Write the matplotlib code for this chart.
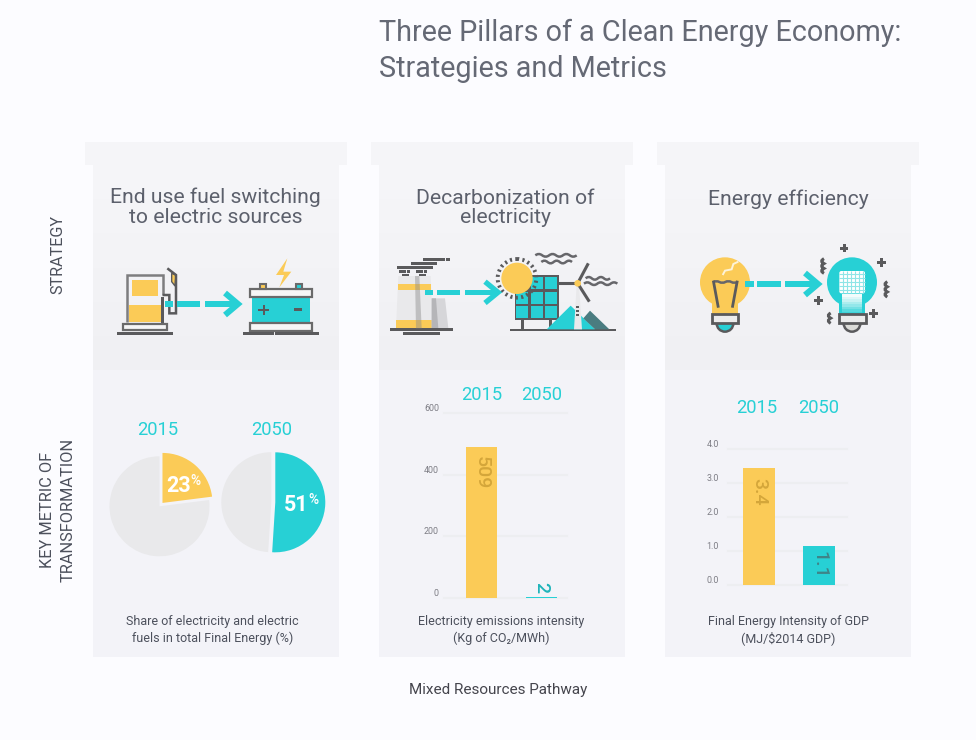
import matplotlib
matplotlib.use("Agg")
import matplotlib.pyplot as plt
from matplotlib.patches import Rectangle, Polygon, Circle, PathPatch, FancyBboxPatch
from matplotlib.path import Path

W, H = 976, 740
plt.rcParams['font.family'] = ['Roboto', 'DejaVu Sans']

TEAL = '#27d0d5'; YEL = '#fbcb57'; DARK = '#5a5a5c'; TXT = '#656975'
BG = '#fcfcff'; LOW = '#f3f3f8'; CAP = '#f5f5f8'; GRID = '#edeef1'; PIEG = '#e9e9eb'
UP_SHADES = ['#f5f5f8', '#f4f4f7', '#f3f3f6', '#f2f2f5', '#f1f1f4', '#f0f0f3']

title_lines = ["Three Pillars of a Clean Energy Economy:", "Strategies and Metrics"]
headings = ["End use fuel switching\nto electric sources", "Decarbonization of\nelectricity", "Energy efficiency"]
captions = ["Share of electricity and electric\nfuels in total Final Energy (%)",
            "Electricity emissions intensity\n(Kg of CO\u2082/MWh)",
            "Final Energy Intensity of GDP\n(MJ/$2014 GDP)"]
years = ["2015", "2050"]
share_values = [23, 51]
emission_bars = [490, 2]
emission_labels = ["509", "2"]
emission_ticks = [0, 200, 400, 600]
intensity_bars = [3.44, 1.14]
intensity_labels = ["3.4", "1.1"]
intensity_ticks = [0.0, 1.0, 2.0, 3.0, 4.0]

fig = plt.figure(figsize=(W / 100, H / 100), dpi=100, facecolor=BG)

def px_axes(x0, y0, x1, y1, z=1):
    a = fig.add_axes([x0 / W, 1 - y1 / H, (x1 - x0) / W, (y1 - y0) / H], zorder=z)
    a.patch.set_alpha(0)
    return a

bg = px_axes(0, 0, W, H, 0)
bg.set_xlim(0, W); bg.set_ylim(H, 0); bg.axis('off')
ov = px_axes(0, 0, W, H, 5)
ov.set_xlim(0, W); ov.set_ylim(H, 0); ov.axis('off')

def T(x, y, s, size, color=TXT, **kw):
    kw.setdefault('ha', 'center'); kw.setdefault('va', 'center')
    return bg.text(x, y, s, fontsize=size, color=color, **kw)

# ---- panels
for cx0, px0 in zip((85, 371, 657), (93, 379, 665)):
    bg.add_patch(Rectangle((cx0, 142), 262, 23, fc=CAP, ec='none'))
    band = 205 / len(UP_SHADES)
    for i, shade in enumerate(UP_SHADES):
        bg.add_patch(Rectangle((px0, 165 + i * band), 246, band + 0.5, fc=shade, ec='none'))
    bg.add_patch(Rectangle((px0, 370), 246, 287, fc=LOW, ec='none'))

# ---- text
T(379, 33, title_lines[0], 20.7, ha='left')
T(379, 69, title_lines[1], 20.7, ha='left')
for cx, y, s in zip((215.5, 505.5, 788), (207, 208, 199), headings):
    T(cx, y, s, 15.2, color='#5c606c', linespacing=1.05, multialignment='center')
for cx, s in zip((212.5, 501, 788), captions):
    T(cx, 630, s, 9, color='#4c505c', linespacing=1.25, multialignment='center')
T(58, 255, "STRATEGY", 11.6, color='#4c505c', rotation=90)
T(47, 510, "KEY METRIC OF", 11.8, color='#4c505c', rotation=90)
T(68, 510, "TRANSFORMATION", 11.8, color='#4c505c', rotation=90)
T(498, 690, "Mixed Resources Pathway", 11, color='#45454d')
for xs, y in (((158, 272), 430), ((482, 542), 395), ((757, 819), 408)):
    for x, s in zip(xs, years):
        T(x, y, s, 13.2, color=TEAL)

# ---- icon helpers (icon geometry in zoom units)
class Icon:
    def __init__(self, ox, oy):
        self.ox, self.oy = ox, oy
    def p(self, x, y):
        return self.ox + x / 3, self.oy + y / 3
    def rect(self, x0, y0, x1, y1, fc=DARK, ec='none', lw=0, z=3):
        a = self.p(x0, y0); b = self.p(x1, y1)
        bg.add_patch(Rectangle(a, b[0] - a[0], b[1] - a[1], fc=fc, ec=ec, lw=lw, zorder=z))
    def poly(self, pts, fc=DARK, ec='none', lw=0, z=3, alpha=None):
        bg.add_patch(Polygon([self.p(*q) for q in pts], closed=True, fc=fc, ec=ec, lw=lw, zorder=z, alpha=alpha))
    def line(self, pts, color=DARK, lw=1.5, z=4):
        xy = [self.p(*q) for q in pts]
        bg.plot([q[0] for q in xy], [q[1] for q in xy], color=color, lw=lw, zorder=z,
                solid_capstyle='butt', solid_joinstyle='miter')
    def circ(self, x, y, r, fc=YEL, ec='none', lw=0, z=3, **kw):
        bg.add_patch(Circle(self.p(x, y), r / 3, fc=fc, ec=ec, lw=lw, zorder=z, **kw))
    def arrow(self, dashes, y, tip, head_x, spread, thick):
        for a, b in dashes:
            self.rect(a, y - thick / 2, b, y + thick / 2, fc=TEAL, z=6)
        self.line([(head_x, y - spread), (tip - 6, y), (head_x, y + spread)], color=TEAL, lw=thick / 3 * 0.72, z=6)
    def wave(self, x0, x1, y, n, amp=5, lw=1.8):
        step = (x1 - x0) / n
        verts = [(x0, y)]; codes = [Path.MOVETO]
        for i in range(n):
            c = x0 + step * (i + 0.5); e = x0 + step * (i + 1)
            sign = -1 if i % 2 == 0 else 1
            verts += [(c, y + sign * 2 * amp), (e, y)]; codes += [Path.CURVE3, Path.CURVE3]
        verts = [self.p(u, v) for u, v in verts]
        bg.add_patch(PathPatch(Path(verts, codes), fc='none', ec='#66666a', lw=lw, zorder=4))
    def plus(self, x, y, s=13, t=9):
        self.rect(x - s, y - t / 2, x + s, y + t / 2)
        self.rect(x - t / 2, y - s, x + t / 2, y + s)

# ---- fuel pump -> battery
a = Icon(90, 240)
a.rect(126, 120, 204, 168, fc=YEL)
a.rect(116, 195, 214, 245, fc=YEL)
a.line([(112, 245), (112, 105), (218, 105), (218, 165)], color='#7d7d7f', lw=1.8)
a.rect(213, 170, 222, 248)
a.rect(100, 252, 232, 270, fc='#f6f6f6', ec='#6a6a6a', lw=1.6)
a.rect(81, 277, 249, 285)
a.line([(218, 165), (238, 165), (238, 220), (258, 220), (258, 105), (232, 85)], lw=1.8)
a.poly([(245, 100), (258, 105), (255, 138), (245, 125)], fc=YEL, ec=DARK, lw=1)
a.arrow([(225, 248), (262, 330), (345, 432)], 192, 450, 405, 33, 18)
a.rect(486, 170, 660, 248, fc=TEAL)
a.rect(480, 148, 665, 170, fc='#f6f6f6', ec='#6a6a6a', lw=1.6)
a.rect(480, 249, 665, 272, fc='#f6f6f6', ec='#6a6a6a', lw=1.6)
a.rect(509, 131, 528, 148, fc=YEL, ec='#6a6a6a', lw=1.5)
a.rect(617, 131, 636, 148, fc=TEAL, ec='#6a6a6a', lw=1.5)
a.plus(521, 210, 16, 7)
a.rect(612, 203, 636, 212)
a.poly([(592, 55), (558, 105), (582, 105), (568, 142), (604, 95), (580, 95)], fc=YEL)
a.rect(459, 277, 552, 285); a.rect(555, 277, 687, 285)

# ---- power plant -> sun, panel, wind
b = Icon(380, 240)
b.poly([(55, 108), (152, 108), (158, 265), (48, 265)], fc='#e9e9eb')
b.rect(53, 131, 154, 150, fc=YEL)
b.rect(48, 240, 159, 265, fc=YEL)
b.poly([(105, 108), (118, 108), (125, 265), (108, 265)], fc='#8c8c8c', alpha=0.45, z=4)
b.poly([(155, 175), (195, 175), (205, 265), (155, 265)], fc='#d6d6d9')
b.poly([(155, 175), (168, 175), (175, 265), (155, 265)], fc='#b5b5b8')
for x0, x1, y0, y1 in ((130, 195, 54, 62), (198, 210, 54, 62), (93, 170, 67, 75), (51, 158, 78, 87),
                       (57, 78, 91, 99), (81, 90, 91, 99), (66, 87, 102, 108),
                       (108, 128, 91, 99), (132, 141, 91, 99), (117, 138, 102, 108),
                       (30, 218, 264, 272), (69, 180, 277, 285), (390, 708, 267, 272)):
    b.rect(x0, y0, x1, y1)
b.rect(404, 106, 536, 239, fc=DARK)
for x in (409, 453, 496):
    for y in (111, 155, 198):
        b.rect(x, y, x + 36, y + 36, fc=TEAL, z=3.5)
b.rect(422, 238, 433, 268); b.rect(507, 238, 517, 268)
b.poly([(500, 268), (572, 197), (645, 268)], fc=TEAL)
b.poly([(610, 235), (630, 212), (688, 268), (645, 268)], fc='#4a7c80')
b.poly([(590, 135), (597, 135), (606, 268), (582, 268)], fc='#e9e9eb', z=3.6)
for y in (200, 213, 226):
    b.rect(588, y - 3, 597, y + 3, z=4)
b.line([(535, 130), (593, 130)], lw=2.2)
b.line([(625, 70), (593, 130)], lw=2.2)
b.line([(628, 185), (593, 130)], lw=2.2)
b.circ(593, 130, 10, z=5)
bg.add_patch(Circle(b.p(411, 115), 58 / 3, fc='none', ec=DARK, lw=2.8, zorder=5,
                    linestyle=(0, (0.55, 0.85))))
b.circ(411, 115, 47, z=6)
b.arrow([(135, 158), (171, 240), (255, 345)], 157, 360, 315, 32, 16)
b.wave(466, 590, 46, 6, amp=4)
b.wave(484, 576, 66, 5, amp=4)
b.wave(617, 690, 115, 4, amp=4)
b.wave(612, 712, 131, 5, amp=4)

# ---- bulbs
c = Icon(670, 240)
c.circ(165, 127, 75)
c.rect(127, 175, 205, 226, fc=YEL)
c.wave(130, 202, 126, 4, amp=2.5)
c.line([(130, 122), (145, 203)], lw=2)
c.line([(202, 122), (187, 203)], lw=2)
c.line([(205, 65), (190, 72), (185, 88), (165, 92), (158, 105)], color='#fdf3d8', lw=1.4)
c.circ(165, 250, 25, fc=TEAL, ec=DARK, lw=1.8)
c.rect(126, 223, 205, 248, fc='#ececec', ec=DARK, lw=2, z=4)
c.arrow([(225, 252), (262, 333), (345, 432)], 132, 450, 405, 33, 18)
c.circ(546, 127, 75, fc=TEAL)
c.rect(508, 175, 585, 226, fc=TEAL)
x0, y0 = c.p(508, 93); x1, y1 = c.p(585, 160)
bg.add_patch(FancyBboxPatch((x0 + 2, y0 + 2), x1 - x0 - 4, y1 - y0 - 4, boxstyle='round,pad=2',
                            fc='#ffffff', ec='none', zorder=4))
for x in range(518, 580, 12):
    c.line([(x, 93), (x, 160)], color='#8fe5e7', lw=0.8, z=5)
for y in range(103, 158, 12):
    c.line([(508, y), (585, y)], color='#8fe5e7', lw=0.8, z=5)
for i, alpha in enumerate((0.95, 0.85, 0.75, 0.62, 0.5, 0.36, 0.22, 0.1)):
    y = 163 + i * 7.4
    c.rect(517, y, 577, y + 7.4, fc=(1, 1, 1, alpha), z=4)
c.circ(546, 250, 25, fc='#dcdcd8', ec=DARK, lw=1.8)
c.rect(507, 223, 587, 248, fc='#ececec', ec=DARK, lw=2, z=4)
for x, y in ((522, 24), (634, 67), (446, 181), (611, 220)):
    c.plus(x, y)
for x, y0_, y1_, n in ((455, 56, 100, 3), (645, 125, 171, 3), (475, 219, 250, 2)):
    pts = [c.p(x + (7 if i % 2 == 0 else -7), y0_ + (y1_ - y0_) * i / (2 * n)) for i in range(2 * n + 1)]
    codes = [Path.MOVETO] + [Path.CURVE3] * (2 * n)
    bg.add_patch(PathPatch(Path(pts, codes), fc='none', ec=DARK, lw=2.2, zorder=4))

# ---- pies
def pie_at(cx, cy, share, color, explode):
    ax = px_axes(cx - 62.5, cy - 62.5, cx + 62.5, cy + 62.5, 2)
    ax.pie([share, 100 - share], explode=[explode, 0], startangle=90, counterclock=False,
           colors=[color, PIEG], radius=1, wedgeprops=dict(linewidth=0))
    ax.set_xlim(-1.25, 1.25); ax.set_ylim(-1.25, 1.25)

pie_at(159.5, 506.3, share_values[0], YEL, 0.09)
pie_at(271.3, 502.2, share_values[1], TEAL, 0.08)
for x, y, v in ((179, 486, share_values[0]), (296.5, 505, share_values[1])):
    ov.text(x, y, str(v), fontsize=15.5, color='white', fontweight='bold', ha='center', va='center')
    ov.text(x + 16.5, y - 5, "%", fontsize=10, color='white', fontweight='medium', ha='center', va='center')

# ---- bars
def bars(x0, x1, y_bottom, y_top, ymax, values, labels, ticks, fmt, centers, width, pad, colors, label_colors, offsets):
    ax = px_axes(x0, y_top, x1, y_bottom, 2)
    spacing = centers[1] - centers[0]
    ax.set_xlim((x0 - centers[0]) / spacing, (x1 - centers[0]) / spacing)
    ax.set_ylim(0, ymax)
    ax.bar([0, 1], values, width=width / spacing, color=colors, zorder=3, linewidth=0)
    ax.set_xticks([])
    ax.set_yticks(ticks)
    ax.set_yticklabels([fmt.format(t) for t in ticks])
    ax.tick_params(axis='y', length=0, pad=pad, labelsize=6.4, labelcolor='#7d7d85')
    for lab in ax.get_yticklabels():
        lab.set_verticalalignment('bottom')
    ax.grid(axis='y', color=GRID, lw=1.5, zorder=0)
    for g in ax.get_ygridlines():
        g.set_clip_on(False)
    ax.set_axisbelow(True)
    for s in ax.spines.values():
        s.set_visible(False)
    for i, (v, lab, lc, off) in enumerate(zip(values, labels, label_colors, offsets)):
        ax.annotate(lab, (i, v), xytext=(0, off * 0.72), textcoords='offset points', rotation=270,
                    ha='center', va='center', fontsize=14, fontweight='medium', color=lc, zorder=5)

bars(444, 567, 598, 413, 600, emission_bars, emission_labels, emission_ticks, "{:d}",
     (481.5, 541.5), 31, 3.6, [YEL, TEAL], ['#d4a63a', '#1fb4ba'], (-26, 10))
bars(728, 847, 584.7, 449, 4.0, intensity_bars, intensity_labels, intensity_ticks, "{:.1f}",
     (759, 819), 32, 6.5, [YEL, TEAL], ['#d4a63a', '#3f8488'], (-24, -19))

fig.savefig("out.png", dpi=100, facecolor=BG)
